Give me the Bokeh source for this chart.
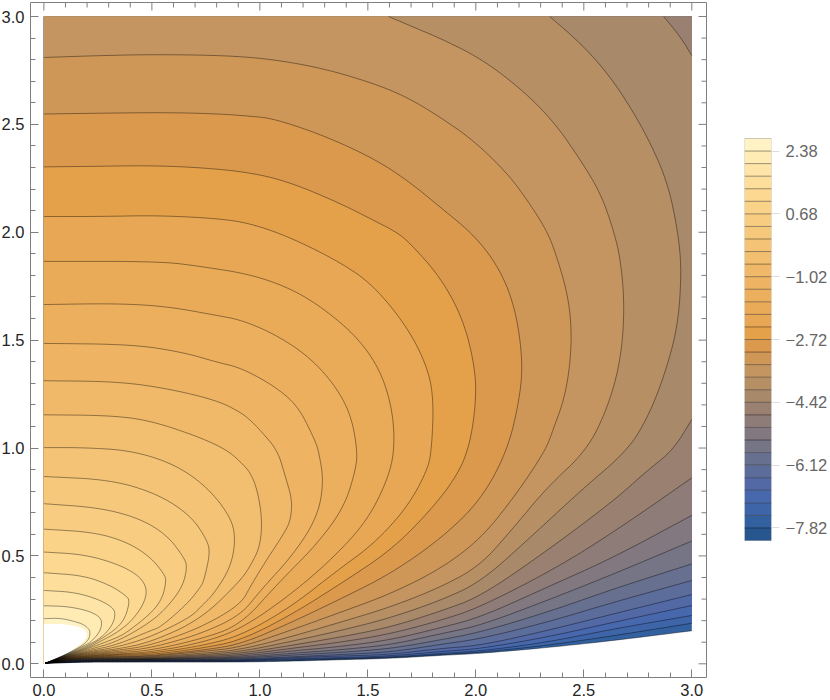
from math import pi
from bokeh.plotting import figure
from bokeh.layouts import row
from bokeh.models import Range1d, FixedTicker
from bokeh.embed import file_html
from bokeh.resources import INLINE

levels = [2.38, 2.04, 1.70, 1.36, 1.02, 0.68, 0.34, 0.0, -0.34, -0.68, -1.02, -1.36, -1.70, -2.04, -2.38, -2.72,
          -3.06, -3.40, -3.74, -4.08, -4.42, -4.76, -5.10, -5.44, -5.78, -6.12, -6.46, -6.80, -7.14, -7.48, -7.82]
band_colors = ["#FFF3C6", "#FFEBB4", "#FEE4A6", "#FDDE9A", "#FCD890", "#FAD288", "#F8CD81", "#F6C87B", "#F4C375",
               "#F2BE6F", "#F0B969", "#EEB463", "#ECAF5E", "#EAAB59", "#E8A754", "#E5A14A", "#DB994E", "#CF9757",
               "#C49560", "#B68F65", "#A88969", "#9A8070", "#8E7C78", "#827880", "#757586", "#68708F", "#5C6D9B",
               "#5269A6", "#4868AD", "#3F65A9", "#33609F", "#27568E"]
legend_ticks = [2.38, 0.68, -1.02, -2.72, -4.42, -6.12, -7.82]
axis_ticks = [0.0, 0.5, 1.0, 1.5, 2.0, 2.5, 3.0]
axis_minor = [0.1, 0.2, 0.3, 0.4, 0.6, 0.7, 0.8, 0.9, 1.1, 1.2, 1.3, 1.4, 1.6, 1.7, 1.8, 1.9, 2.1, 2.2, 2.3, 2.4, 2.6, 2.7, 2.8, 2.9]

# Contours, left/top end first, origin end last.
x_white = [0, .093, .170, .201, .193, .108, .031, .007, 0]
y_white = [.185, .185, .170, .147, .108, .046, .012, .001, 0]

x_p238 = [0, .077, .154, .185, .204, .216, .204, .108, .023, .007]
y_p238 = [.209, .212, .193, .181, .165, .147, .100, .046, .009, .003]
x_p204 = [0, .108, .201, .255, .270, .259, .216, .204, .108, .023, .007]
y_p204 = [.269, .266, .247, .221, .193, .147, .100, .093, .045, .009, .003]
x_p170 = [0, .139, .247, .317, .332, .317, .270, .204, .108, .023, .007]
y_p170 = [.340, .332, .301, .263, .232, .178, .124, .085, .044, .009, .003]
x_p136 = [0, .185, .309, .378, .398, .378, .339, .262, .204, .108, .023, .007]
y_p136 = [.422, .409, .363, .317, .294, .216, .165, .113, .079, .042, .009, .003]
x_p102 = [0, .185, .340, .440, .479, .463, .409, .339, .262, .204, .108, .023, .007]
y_p102 = [.518, .507, .463, .409, .348, .278, .201, .145, .104, .074, .041, .009, .003]
x_p068 = [0, .232, .386, .494, .556, .567, .548, .494, .386, .339, .204, .108, .023, .007]
y_p068 = [.624, .610, .564, .494, .417, .386, .301, .232, .147, .121, .070, .039, .008, .003]
x_p034 = [0, .262, .448, .571, .648, .664, .641, .571, .494, .339, .204, .108, .023, .007]
y_p034 = [.742, .723, .672, .595, .494, .448, .355, .263, .193, .102, .065, .038, .008, .003]
x_000 = [0, .309, .525, .679, .757, .769, .741, .725, .664, .540, .494, .339, .204, .108, .023, .007]
y_000 = [.868, .853, .788, .688, .572, .510, .386, .355, .278, .170, .154, .088, .060, .037, .008, .003]
x_m034 = [0, .184, .401, .602, .757, .865, .888, .865, .787, .725, .679, .494, .339, .204, .108, .023, .007]
y_m034 = [1.002, 1.002, .989, .927, .819, .680, .579, .448, .324, .263, .216, .124, .077, .056, .035, .008, .003]
x_m068 = [0, .309, .494, .725, .850, .911, .957, .990, 1.011, 1.0, .957, .911, .725, .494, .339, .204, .108, .023, .007]
y_m068 = [1.154, 1.151, 1.127, 1.049, .989, .935, .885, .800, .664, .541, .456, .386, .205, .100, .068, .053, .034, .007, .003]
x_m102 = [0, .341, .572, .804, .911, .957, 1.003, 1.082, 1.119, 1.150, 1.142, 1.111, 1.019, .957, .911, .725, .494, .339, .204, .108, .023, .007]
y_m102 = [1.312, 1.308, 1.276, 1.220, 1.165, 1.128, 1.081, .989, .865, .757, .664, .603, .463, .360, .275, .167, .085, .062, .049, .033, .007, .003]
x_m136 = [0, .415, .647, .804, .911, 1.063, 1.175, 1.249, 1.272, 1.296, 1.266, 1.158, 1.003, .911, .725, .494, .339, .204, .108, .023, .007]
y_m136 = [1.485, 1.480, 1.443, 1.397, 1.372, 1.290, 1.197, 1.049, .989, .842, .680, .510, .340, .225, .138, .073, .056, .046, .031, .007, .003]
x_m170 = [0, .341, .572, .804, .911, 1.063, 1.221, 1.342, 1.420, 1.452, 1.443, 1.390, 1.266, 1.081, .911, .725, .494, .339, .204, .108, .023, .007]
y_m170 = [1.665, 1.670, 1.656, 1.614, 1.594, 1.531, 1.429, 1.299, 1.160, .989, .896, .726, .556, .370, .180, .114, .062, .051, .043, .030, .007, .003]
x_m204 = [0, .540, .725, .957, 1.142, 1.295, 1.453, 1.559, 1.615, 1.624, 1.590, 1.497, 1.343, 1.142, .911, .725, .494, .339, .204, .108, .023, .007]
y_m204 = [1.865, 1.865, 1.842, 1.805, 1.740, 1.647, 1.512, 1.359, 1.174, .989, .850, .664, .494, .320, .160, .096, .054, .046, .040, .028, .007, .003]
x_m238 = [0, .262, .526, .804, .957, 1.142, 1.374, 1.527, 1.684, 1.777, 1.805, 1.795, 1.775, 1.683, 1.528, 1.359, 1.142, .911, .725, .494, .339, .204, .108, .023, .007]
y_m238 = [2.073, 2.073, 2.078, 2.064, 2.041, 1.976, 1.860, 1.753, 1.559, 1.373, 1.220, .989, .896, .726, .556, .433, .262, .130, .082, .048, .043, .037, .027, .006, .003]
x_m272 = [0, .262, .494, .725, .957, 1.142, 1.374, 1.527, 1.619, 1.684, 1.837, 1.944, 1.999, 1.999, 1.966, 1.899, 1.775, 1.605, 1.374, 1.142, .911, .725, .494, .339, .204, .108, .023, .007]
y_m272 = [2.303, 2.306, 2.309, 2.300, 2.277, 2.231, 2.133, 2.055, 2.008, 1.962, 1.791, 1.591, 1.359, 1.188, .989, .850, .695, .525, .371, .225, .108, .071, .042, .040, .035, .026, .006, .003]
x_m306 = [0, .262, .572, .804, .957, 1.063, 1.295, 1.527, 1.684, 1.837, 1.999, 2.115, 2.185, 2.217, 2.204, 2.147, 2.022, 1.837, 1.605, 1.374, 1.142, .911, .725, .494, .339, .204, .108, .023, .007]
y_m306 = [2.548, 2.552, 2.555, 2.549, 2.538, 2.527, 2.449, 2.342, 2.240, 2.115, 1.981, 1.823, 1.638, 1.406, 1.234, .989, .757, .579, .417, .301, .190, .090, .062, .037, .036, .032, .024, .006, .003]
x_m340 = [0, .262, .526, .850, 1.063, 1.295, 1.527, 1.684, 1.837, 1.990, 2.147, 2.240, 2.328, 2.370, 2.425, 2.444, 2.435, 2.407, 2.361, 2.323, 2.177, 2.022, 1.837, 1.605, 1.374, 1.142, .911, .725, .494, .339, .204, .108, .023, .007]
y_m340 = [2.810, 2.819, 2.824, 2.819, 2.801, 2.759, 2.690, 2.625, 2.532, 2.425, 2.272, 2.147, 2.008, 1.902, 1.716, 1.545, 1.373, 1.220, 1.095, .989, .772, .579, .440, .324, .239, .155, .076, .056, .034, .033, .030, .023, .006, .003]
x_m374 = [1.596, 1.715, 1.837, 2.022, 2.208, 2.361, 2.486, 2.578, 2.638, 2.671, 2.689, 2.671, 2.611, 2.514, 2.331, 2.177, 2.022, 1.837, 1.605, 1.374, 1.142, .911, .725, .494, .339, .204, .108, .023, .007]
y_m374 = [3.0, 2.949, 2.898, 2.806, 2.666, 2.513, 2.333, 2.180, 2.008, 1.869, 1.651, 1.406, 1.188, .989, .819, .634, .456, .355, .263, .193, .125, .065, .048, .031, .030, .028, .021, .006, .003]
x_m408 = [2.342, 2.486, 2.611, 2.717, 2.810, 2.889, 2.935, 2.953, 2.935, 2.870, 2.796, 2.703, 2.486, 2.254, 2.022, 1.837, 1.605, 1.374, 1.142, .911, .725, .494, .339, .204, .108, .023, .007]
y_m408 = [3.0, 2.875, 2.736, 2.578, 2.411, 2.226, 2.008, 1.823, 1.559, 1.327, 1.142, .989, .803, .587, .379, .294, .213, .154, .103, .056, .042, .028, .027, .026, .020, .005, .003]
x_m442_upper = [2.870, 2.949, 3.0]
y_m442_upper = [3.0, 2.903, 2.819]
x_m442_lower = [3.0, 2.912, 2.794, 2.640, 2.331, 2.022, 1.837, 1.605, 1.374, 1.142, .911, .725, .494, .339, .204, .108, .023, .007]
y_m442_lower = [1.132, .989, .896, .757, .525, .312, .244, .170, .124, .085, .048, .037, .025, .025, .024, .019, .005, .003]
x_m476 = [3.0, 2.717, 2.408, 2.022, 1.837, 1.605, 1.374, 1.142, .911, .725, .494, .339, .204, .108, .023, .007]
y_m476 = [.862, .664, .463, .263, .201, .139, .100, .071, .041, .032, .023, .023, .022, .017, .005, .003]

x_fan = [3.0, 2.640, 2.331, 2.022, 1.837, 1.605, 1.374, 1.142, .911, .725, .494, .339, .204, .108, .023, .007]
y_m510 = [.688, .494, .355, .216, .167, .111, .080, .059, .035, .028, .022, .021, .020, .016, .005, .003]
y_m544 = [.569, .417, .294, .178, .139, .088, .065, .048, .030, .025, .020, .019, .018, .014, .005, .003]
y_m578 = [.463, .348, .239, .147, .111, .070, .053, .040, .026, .022, .019, .018, .017, .013, .004, .003]
y_m612 = [.386, .286, .193, .116, .090, .054, .043, .032, .022, .019, .017, .016, .015, .012, .004, .003]
y_m646 = [.321, .232, .154, .085, .071, .043, .036, .028, .018, .017, .015, .014, .014, .010, .004, .003]
y_m680 = [.270, .193, .124, .070, .057, .036, .029, .023, .016, .015, .014, .013, .012, .009, .004, .003]
y_m714 = [.224, .162, .100, .059, .048, .031, .025, .019, .014, .013, .012, .011, .011, .007, .004, .003]
y_m748 = [.188, .130, .085, .053, .043, .028, .022, .015, .011, .010, .010, .009, .009, .006, .003, .003]
y_m782 = [.153, .108, .075, .048, .039, .025, .019, .012, .008, .008, .008, .008, .008, .005, .003, .003]

# level index -> contour; first the ones that end on the right edge, then those on the top edge, then the left edge
right_edge = [(30, y_m782), (29, y_m748), (28, y_m714), (27, y_m680), (26, y_m646), (25, y_m612), (24, y_m578),
              (23, y_m544), (22, y_m510)]
left_edge = [(16, x_m306, y_m306), (15, x_m272, y_m272), (14, x_m238, y_m238), (13, x_m204, y_m204),
             (12, x_m170, y_m170), (11, x_m136, y_m136), (10, x_m102, y_m102), (9, x_m068, y_m068),
             (8, x_m034, y_m034), (7, x_000, y_000), (6, x_p034, y_p034), (5, x_p068, y_p068), (4, x_p102, y_p102),
             (3, x_p136, y_p136), (2, x_p170, y_p170), (1, x_p204, y_p204), (0, x_p238, y_p238)]

X_MAX, Y_MAX = 3.0, 3.0
LINE = dict(line_color="black", line_alpha=0.5, line_width=0.8)
FRAME = "#7f7f7f"
X0, X1, Y0, Y1 = -0.0620, 3.0680, -0.0635, 3.0649


def rounded(xs, ys, n=3):
    """Draw a contour as a rounded curve: corner cutting, with both ends kept."""
    pts = list(zip(xs, ys))
    for _ in range(n):
        out = [pts[0]]
        for a, b in zip(pts[:-1], pts[1:]):
            out.append((0.75 * a[0] + 0.25 * b[0], 0.75 * a[1] + 0.25 * b[1]))
            out.append((0.25 * a[0] + 0.75 * b[0], 0.25 * a[1] + 0.75 * b[1]))
        out.append(pts[-1])
        pts = out
    return [q[0] for q in pts], [q[1] for q in pts]


p = figure(width=712, height=699, output_backend="svg", toolbar_location=None,
           x_range=Range1d(X0, X1), y_range=Range1d(Y0, Y1),
           min_border_left=30, min_border_right=6, min_border_top=2, min_border_bottom=22,
           frame_width=676, frame_height=675, background_fill_color="white")
p.grid.visible = False
p.outline_line_color = FRAME

lines = []


def fill(xs, ys, k):
    p.patch(xs, ys, fill_color=band_colors[k], line_color=None)


for k, ys in right_edge:
    sx, sy = rounded(x_fan, ys)
    fill([X_MAX] + sx + [0.0, 0.0], [Y_MAX] + sy + [0.0, Y_MAX], k)
    lines.append((sx, sy))
sx, sy = rounded(x_m476, y_m476)
fill([X_MAX] + sx + [0.0, 0.0], [Y_MAX] + sy + [0.0, Y_MAX], 21)
lines.append((sx, sy))
ux, uy = rounded(x_m442_upper, y_m442_upper)
lx, ly = rounded(x_m442_lower, y_m442_lower)
fill(ux + lx + [0.0, 0.0], uy + ly + [0.0, Y_MAX], 20)
lines.append((ux, uy))
lines.append((lx, ly))
sx, sy = rounded(x_m408, y_m408)
fill(sx + [0.0, 0.0], sy + [0.0, Y_MAX], 19)
lines.append((sx, sy))
sx, sy = rounded(x_m374, y_m374)
fill(sx + [0.0, 0.0], sy + [0.0, Y_MAX], 18)
lines.append((sx, sy))
sx, sy = rounded(x_m340, y_m340)
fill(sx + [0.0], sy + [0.0], 17)
lines.append((sx, sy))
for k, xs, ys in left_edge:
    sx, sy = rounded(xs, ys)
    fill(sx + [0.0], sy + [0.0], k)
    lines.append((sx, sy))
wx, wy = rounded(x_white, y_white)
p.patch(wx, wy, fill_color="white", line_color=None)
for xs, ys in lines:
    p.line(xs, ys, **LINE)

ticker = FixedTicker(ticks=axis_ticks, minor_ticks=axis_minor)
for ax in (p.xaxis[0], p.yaxis[0]):
    ax.ticker = ticker
    ax.axis_line_color = None
    ax.major_tick_line_color = FRAME
    ax.minor_tick_line_color = FRAME
    ax.major_tick_in = 8
    ax.major_tick_out = 0
    ax.minor_tick_in = 5
    ax.minor_tick_out = 0
    ax.major_label_overrides = {t: f"{t:.1f}" for t in axis_ticks}
    ax.major_label_text_font = "Liberation Sans"
    ax.major_label_text_font_size = "16.5px"
    ax.major_label_text_color = "#262626"
    ax.major_label_standoff = 6

# ticks on the top and right frame edges
TOP_MAJOR = dict(length=8, length_units="screen", line_color=FRAME, line_width=1)
TOP_MINOR = dict(length=5, length_units="screen", line_color=FRAME, line_width=1)
p.ray(x=axis_ticks, y=[Y1] * len(axis_ticks), angle=-pi / 2, **TOP_MAJOR)
p.ray(x=axis_minor, y=[Y1] * len(axis_minor), angle=-pi / 2, **TOP_MINOR)
p.ray(x=[X1] * len(axis_ticks), y=axis_ticks, angle=pi, **TOP_MAJOR)
p.ray(x=[X1] * len(axis_minor), y=axis_minor, angle=pi, **TOP_MINOR)

# Colour legend: its frame is as tall as the main frame, since a row aligns the frames
legend = figure(width=118, height=699, output_backend="svg", toolbar_location=None,
                x_range=Range1d(0, 1), y_range=Range1d(-11.867, 6.40),
                min_border_left=32, min_border_right=59, min_border_top=2, min_border_bottom=22,
                frame_width=27, frame_height=675, y_axis_location="right", x_axis_location=None)
legend.grid.visible = False
legend.outline_line_color = None
edges = [2.72] + levels + [-8.16]
legend.quad(left=0, right=1, top=edges[:-1], bottom=edges[1:], fill_color=band_colors, line_color=None)
legend.segment(x0=[0] * len(levels), x1=[1] * len(levels), y0=levels, y1=levels, **LINE)
legend.quad(left=0, right=1, top=2.72, bottom=-8.16, fill_color=None, line_color="black", line_alpha=0.2)
lax = legend.yaxis[0]
lax.ticker = FixedTicker(ticks=legend_ticks)
lax.major_label_overrides = {t: f"{t:.2f}".replace("-", "\u2212") for t in legend_ticks}
lax.axis_line_color = None
lax.minor_tick_line_color = None
lax.major_tick_line_color = "#dcdcdc"
lax.major_tick_in = 0
lax.major_tick_out = 8
lax.major_label_standoff = 6
lax.major_label_text_font = "Liberation Sans"
lax.major_label_text_font_size = "16.5px"
lax.major_label_text_color = "#666666"

layout = row(p, legend, spacing=0, margin=(0, 0, 0, -2))
open("out.html", "w").write(file_html(layout, INLINE))
